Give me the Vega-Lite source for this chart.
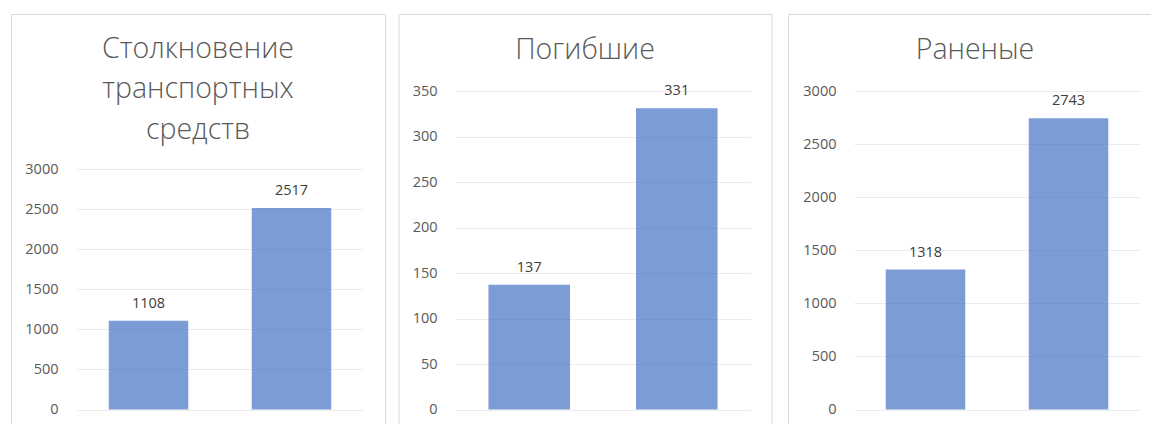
{
  "$schema": "https://vega.github.io/schema/vega-lite/v6.json",
  "padding": {"left": 10, "top": 13, "right": 0, "bottom": 0},
  "background": "white",
  "spacing": 11.5,
  "config": {
    "view": {"stroke": "#d9d9d9", "strokeWidth": 1, "fill": "white"},
    "title": {"font": "Open Sans", "fontWeight": 300, "fontSize": 28.5, "color": "#595959", "anchor": "middle", "frame": "group", "lineHeight": 40.5},
    "axisY": {"domain": false, "ticks": false, "tickSize": 0, "labelPadding": 0, "labelFont": "Open Sans", "labelFontSize": 14.5, "labelColor": "#595959", "grid": true, "gridColor": "#ececec", "gridWidth": 1, "title": null, "format": "d"},
    "text": {"font": "Open Sans", "fontSize": 14.5, "color": "#404040"}
  },
  "hconcat": [
    {
      "title": {"text": ["Столкновение", "транспортных", "средств"], "offset": -130},
      "width": 374, "height": 421,
      "data": {"values": [{"cat": "A", "v": 1108}, {"cat": "B", "v": 2517}]},
      "encoding": {
        "x": {"field": "cat", "type": "nominal", "axis": null, "scale": {"range": [66, 352], "paddingInner": 0, "paddingOuter": 0}},
        "y": {"field": "v", "type": "quantitative", "scale": {"domain": [0, 3000], "range": [395.5, 155.3], "nice": false, "zero": true}, "axis": {"values": [0, 500, 1000, 1500, 2000, 2500, 3000], "offset": -47}}
      },
      "layer": [
        {"mark": {"type": "bar", "width": {"band": 0.556}, "color": "#4472C4", "opacity": 0.7}},
        {"mark": {"type": "text", "dy": -13, "baseline": "alphabetic"}, "encoding": {"text": {"field": "v", "type": "quantitative", "format": "d"}}}
      ]
    },
    {
      "spacing": 14.5,
      "hconcat": [
        {
          "title": {"text": "Погибшие", "offset": -50},
          "width": 373, "height": 421,
          "data": {"values": [{"cat": "A", "v": 137}, {"cat": "B", "v": 331}]},
          "encoding": {
            "x": {"field": "cat", "type": "nominal", "axis": null, "scale": {"range": [57, 352], "paddingInner": 0, "paddingOuter": 0}},
            "y": {"field": "v", "type": "quantitative", "scale": {"domain": [0, 350], "range": [395.5, 77], "nice": false, "zero": true}, "axis": {"values": [0, 50, 100, 150, 200, 250, 300, 350], "offset": -38.5}}
          },
          "layer": [
            {"mark": {"type": "bar", "width": {"band": 0.553}, "color": "#4472C4", "opacity": 0.7}},
            {"mark": {"type": "text", "dy": -13, "baseline": "alphabetic"}, "encoding": {"text": {"field": "v", "type": "quantitative", "format": "d"}}}
          ]
        },
        {
          "title": {"text": "Раненые", "offset": -50},
          "width": 374, "height": 421,
          "data": {"values": [{"cat": "A", "v": 1318}, {"cat": "B", "v": 2743}]},
          "encoding": {
            "x": {"field": "cat", "type": "nominal", "axis": null, "scale": {"range": [66, 352], "paddingInner": 0, "paddingOuter": 0}},
            "y": {"field": "v", "type": "quantitative", "scale": {"domain": [0, 3000], "range": [395.5, 77], "nice": false, "zero": true}, "axis": {"values": [0, 500, 1000, 1500, 2000, 2500, 3000], "offset": -48}}
          },
          "layer": [
            {"mark": {"type": "bar", "width": {"band": 0.556}, "color": "#4472C4", "opacity": 0.7}},
            {"mark": {"type": "text", "dy": -13, "baseline": "alphabetic"}, "encoding": {"text": {"field": "v", "type": "quantitative", "format": "d"}}}
          ]
        }
      ]
    }
  ]
}
